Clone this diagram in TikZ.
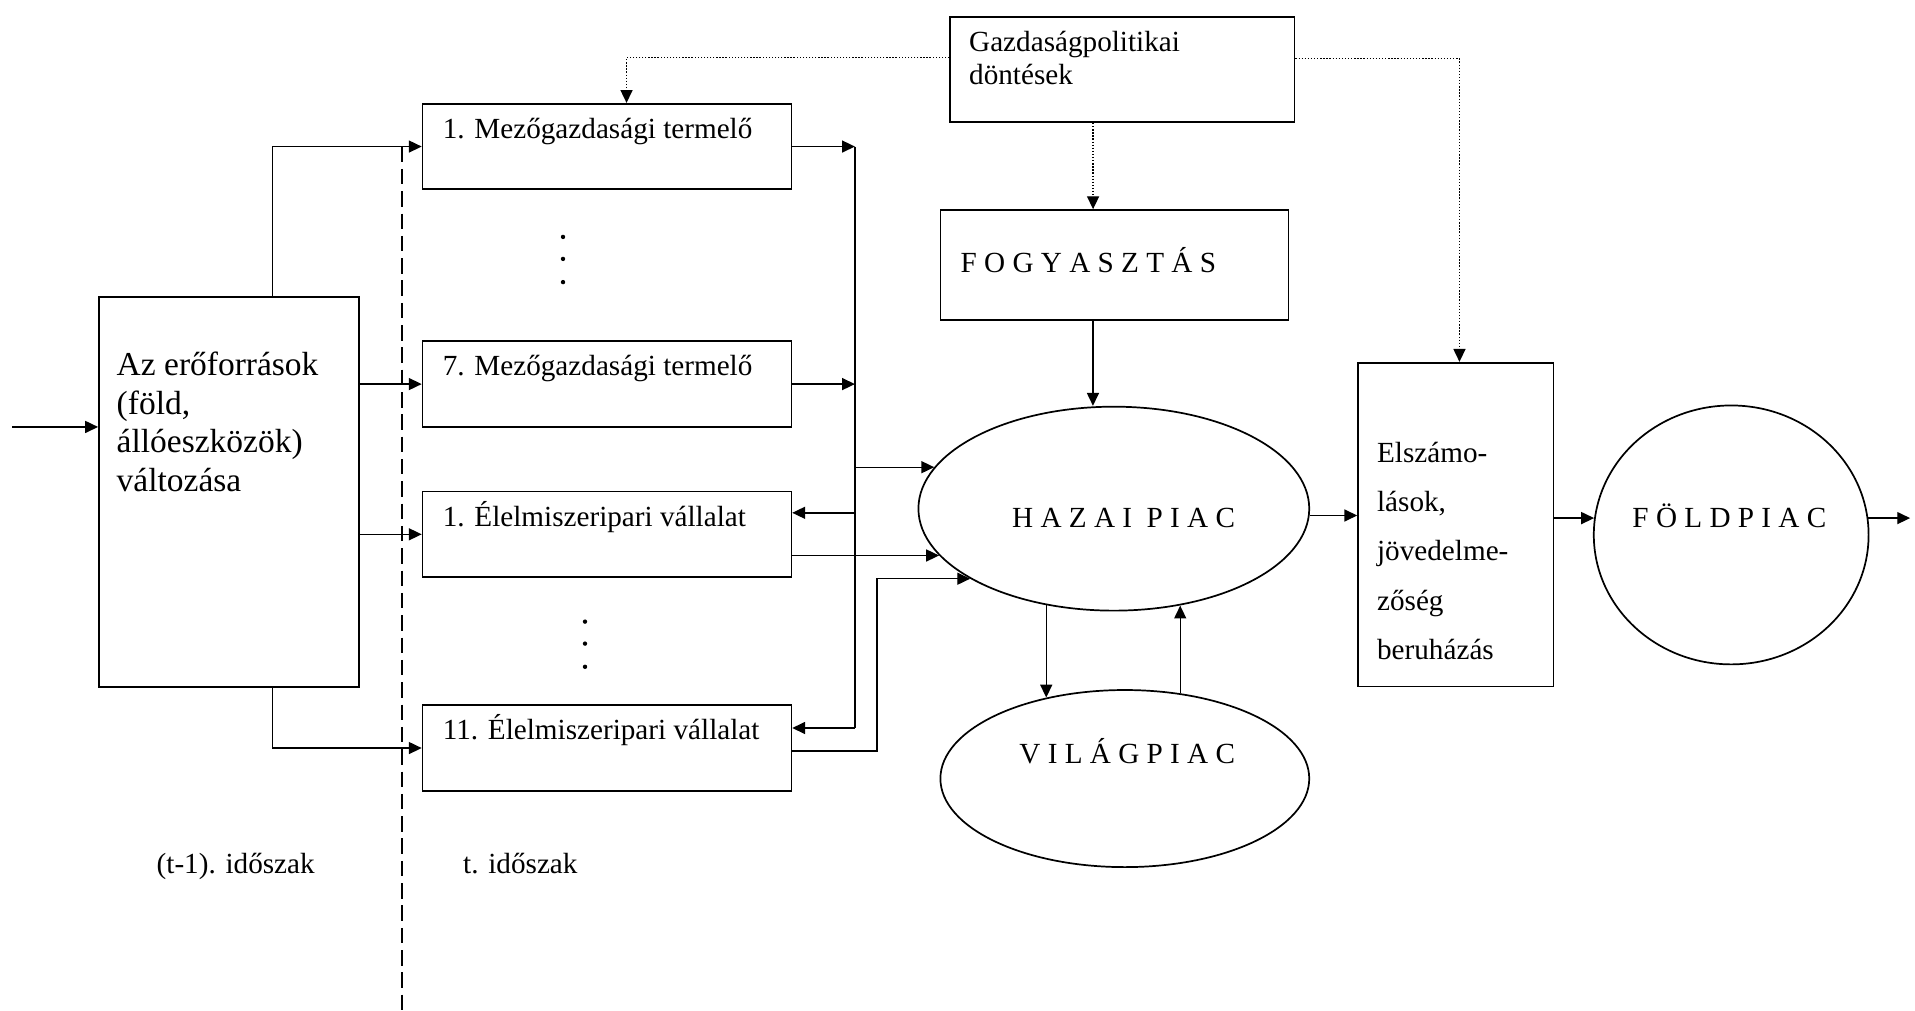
\documentclass[tikz,border=0pt]{standalone}
\usepackage{fontspec}
\setmainfont{Liberation Serif}
\usetikzlibrary{arrows.meta, positioning, calc, shapes.geometric}

\begin{document}
\begin{tikzpicture}[
  arrow/.style={-{Triangle[length=7.5pt, width=7pt]}, line width=0.8pt},
  dotarrow/.style={arrow, dash pattern=on 0.8pt off 1pt},
  box/.style={draw, line width=1pt, rectangle, inner sep=0pt},
  unit/.style={box, minimum width=7.55cm, minimum height=1.75cm},
  market/.style={draw, line width=1pt, ellipse, inner sep=0pt},
  txt/.style={font=\fontsize{17}{19}\selectfont, inner sep=0pt, align=left},
  caps/.style={txt, anchor=base}
]
  \useasboundingbox (0,0) rectangle (39.2,20.675);

  % Resources (t-1)
  \node[box, minimum width=5.325cm, minimum height=7.99cm] (res) at (4.6875, 10.606) {};
  \node[txt, font=\fontsize{19.5}{22.5}\selectfont, anchor=base west] (res-t) at ($(res.north west)+(0.375,-4.0)$) {Az erőforrások\\(föld,\\állóeszközök)\\változása};

  % Producers and food companies
  \node[unit] (m1) at (12.425, 17.675) {};
  \node[txt, anchor=base west] (m1-t) at ($(m1.north west)+(0.425,-0.725)$) {1. Mezőgazdasági termelő};
  \node[unit] (m7) at (12.425, 12.8125) {};
  \node[txt, anchor=base west] (m7-t) at ($(m7.north west)+(0.425,-0.725)$) {7. Mezőgazdasági termelő};
  \node[unit] (e1) at (12.425, 9.7375) {};
  \node[txt, anchor=base west] (e1-t) at ($(e1.north west)+(0.425,-0.725)$) {1. Élelmiszeripari vállalat};
  \node[unit] (e11) at (12.425, 5.3625) {};
  \node[txt, anchor=base west] (e11-t) at ($(e11.north west)+(0.425,-0.725)$) {11. Élelmiszeripari vállalat};

  \foreach \y in {15.825, 15.375, 14.9} \fill (11.525, \y) circle (0.045);
  \foreach \y in {7.95, 7.5, 7.025} \fill (11.975, \y) circle (0.045);

  % Policy, consumption, markets
  \node[box, minimum width=7.05cm, minimum height=2.15cm] (gaz) at (22.975, 19.25) {};
  \node[txt, anchor=base west] (gaz-t) at ($(gaz.north west)+(0.4,-1.39)$) {Gazdaságpolitikai\\döntések};
  \node[box, minimum width=7.125cm, minimum height=2.25cm] (fog) at (22.8125, 15.25) {};
  \node[caps, anchor=base west] (fog-t) at ($(fog.west)+(0.425,-0.15)$) {F O G Y A S Z T Á S};
  \node[market, minimum width=8cm, minimum height=4.175cm] (haz) at (22.8, 10.2625) {};
  \node[caps] (haz-t) at (23.0, 9.875) {H A Z A I \ P I A C};
  \node[market, minimum width=7.55cm, minimum height=3.625cm] (vil) at (23.025, 4.7375) {};
  \node[caps] (vil-t) at (23.075, 5.05) {V I L Á G P I A C};
  \node[box, minimum width=4cm, minimum height=6.625cm] (els) at (29.8, 9.9375) {};
  \node[txt, font=\fontsize{17}{28.8}\selectfont, anchor=base west] (els-t) at ($(els.north west)+(0.4,-6.1)$) {Elszámo-\\lások,\\jövedelme-\\zőség\\beruházás};
  \node[market, minimum width=5.625cm, minimum height=5.3cm] (fol) at (35.4375, 9.725) {};
  \node[caps] (fol-t) at (35.4, 9.875) {F Ö L D P I A C};

  % Periods
  \draw[line width=0.8pt, dash pattern=on 9pt off 4pt] (8.225, 17.675) -- (8.225, 0);
  \node[caps] (prev) at (4.825, 2.8) {(t-1). időszak};
  \node[caps, anchor=base west] (curr) at (9.475, 2.8) {t. időszak};

  % Helper coordinates
  \coordinate (src) at (0.25, 11.935);
  \coordinate (out) at (39.1, 0);
  \coordinate (bus) at (17.5, 0);
  \coordinate (loop) at (17.95, 0);
  \coordinate (rtop) at ($(res.north west)!0.665!(res.north east)$);
  \coordinate (rbot) at ($(res.south west)!0.665!(res.south east)$);
  \coordinate (e1in) at ($(e1.east)+(0,0.44)$);
  \coordinate (e11in) at ($(e11.east)+(0,0.41)$);
  \coordinate (e11out) at ($(e11.east)+(0,-0.06)$);
  \coordinate (gd) at ($(gaz.south)+(-0.6,0)$);
  \coordinate (fd) at ($(fog.south)+(-0.44,0)$);

  % Resources to units
  \draw[arrow] (src) -- (src -| res.west);
  \draw[arrow] (rtop) |- (m1.west);
  \draw[arrow] (m7.west -| res.east) -- (m7.west);
  \draw[arrow] (e1.west -| res.east) -- (e1.west);
  \draw[arrow] (rbot) |- (e11.west);

  % Units to domestic market
  \draw[line width=0.8pt] (bus |- m1.east) -- (bus |- e11in);
  \draw[arrow] (m1.east) -- (bus |- m1.east);
  \draw[arrow] (m7.east) -- (bus |- m7.east);
  \draw[arrow] (bus |- haz.167) -- (haz.167);
  \draw[arrow] (bus |- e1in) -- (e1in);
  \draw[arrow] (e1.east |- haz.195) -- (haz.195);
  \draw[arrow] (bus |- e11in) -- (e11in);
  \draw[arrow] (e11out) -- (e11out -| loop) |- (haz.206);

  % Policy links
  \draw[dotarrow] ($(gaz.west)+(0,0.25)$) -| ($(m1.north)+(0.4,0)$);
  \draw[dotarrow] ($(gaz.east)+(0,0.225)$) -| ($(els.north)+(0.075,0)$);
  \draw[dotarrow] (gd) -- (gd |- fog.north);
  \draw[arrow] (fd) -- (fd |- haz.north);

  % Markets
  \draw[arrow] (haz.235) -- (haz.235 |- vil.134);
  \draw[arrow] (vil.57) -- (vil.57 |- haz.304.5);
  \draw[arrow] (haz.358) -- (haz.358 -| els.west);
  \draw[arrow] (els.east |- fol.173) -- (fol.173);
  \draw[arrow] (fol.7) -- (fol.7 -| out);

\end{tikzpicture}
\end{document}
